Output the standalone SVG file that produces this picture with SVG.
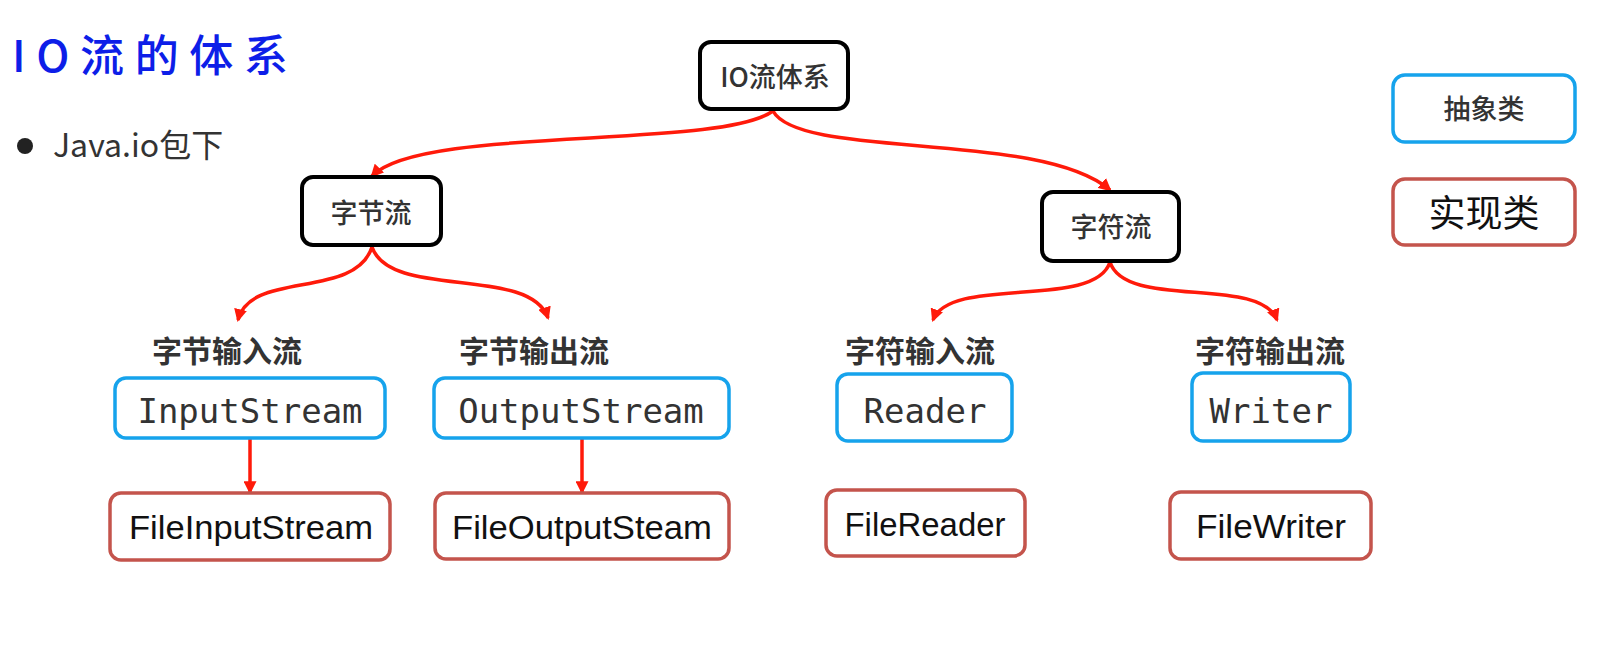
<svg xmlns="http://www.w3.org/2000/svg" width="1597" height="658" viewBox="0 0 1597 658">
<defs>
<marker id="ah" viewBox="0 0 12 12" refX="10" refY="6" markerWidth="13" markerHeight="13" markerUnits="userSpaceOnUse" orient="auto">
<path d="M0,0 L12,6 L0,12 z" fill="#ff1a0a"/>
</marker>
<style>
.cn{font-family:"Noto Sans CJK SC","Noto Sans",sans-serif;}
.blk rect{fill:#fff;stroke:#000;stroke-width:4;}
.abs rect{fill:#fff;stroke:#16a3ec;stroke-width:3.5;}
.imp rect{fill:#fff;stroke:#c4544c;stroke-width:3.5;}
.t1{font-family:"Noto Sans CJK SC","Noto Sans",sans-serif;font-size:27px;fill:#333;text-anchor:middle;font-weight:500;}
.lab{font-family:"Noto Sans CJK SC","Noto Sans",sans-serif;font-size:30px;font-weight:700;fill:#333;text-anchor:middle;}
.mono{font-family:"DejaVu Sans Mono","Liberation Mono",monospace;font-size:34px;fill:#333;text-anchor:middle;}
.sans{font-family:"Liberation Sans","Noto Sans",sans-serif;font-size:33px;fill:#111;text-anchor:middle;}
.con path{fill:none;stroke:#ff1a0a;stroke-width:3.5;marker-end:url(#ah);}
</style>
</defs>
<rect width="1597" height="658" fill="#fff"/>
<g id="title">
<text x="12" y="72" class="cn" style="font-size:44px;font-weight:500;fill:#0d1ee8" textLength="276" lengthAdjust="spacing">IO流的体系</text>
</g>
<g id="bullet">
<circle cx="25" cy="146" r="8" fill="#222"/>
<text x="53" y="157" class="cn" style="font-size:32px;fill:#333">Java.io包下</text>
</g>
<g id="connectors" class="con">
<path d="M773,111 C720,150 420,125 372,176"/>
<path d="M773,111 C800,160 1040,130 1110,190"/>
<path d="M372,247 C355,300 250,270 238,320"/>
<path d="M372,247 C390,300 530,265 548,318"/>
<path d="M1110,262 C1095,310 950,275 933,320"/>
<path d="M1110,262 C1125,310 1260,275 1277,320"/>
<path d="M250,438 L250,492"/>
<path d="M582,438 L582,492"/>
</g>
<g id="n-io" class="blk">
<rect x="700" y="42" width="148" height="67" rx="11"/>
<text x="775" y="87" class="t1">IO流体系</text>
</g>
<g id="n-byte" class="blk">
<rect x="302" y="177" width="139" height="68" rx="11"/>
<text x="371" y="223" class="t1">字节流</text>
</g>
<g id="n-char" class="blk">
<rect x="1042" y="192" width="137" height="69" rx="11"/>
<text x="1111" y="237" class="t1">字符流</text>
</g>
<g id="legend-abs" class="abs">
<rect x="1393" y="75" width="182" height="67" rx="12"/>
<text x="1484" y="119" class="t1">抽象类</text>
</g>
<g id="legend-impl" class="imp">
<rect x="1393" y="179" width="182" height="66" rx="12"/>
<text x="1484" y="227" class="t1" style="font-size:37px;fill:#111;font-weight:400">实现类</text>
</g>
<g id="lab-bi"><text x="227" y="362" class="lab">字节输入流</text></g>
<g id="lab-bo"><text x="534" y="362" class="lab">字节输出流</text></g>
<g id="lab-ci"><text x="920" y="362" class="lab">字符输入流</text></g>
<g id="lab-co"><text x="1270" y="362" class="lab">字符输出流</text></g>
<g id="n-inputstream" class="abs">
<rect x="115" y="378" width="270" height="60" rx="11"/>
<text x="250" y="423" class="mono">InputStream</text>
</g>
<g id="n-outputstream" class="abs">
<rect x="434" y="378" width="295" height="60" rx="11"/>
<text x="581" y="423" class="mono">OutputStream</text>
</g>
<g id="n-reader" class="abs">
<rect x="837" y="374" width="175" height="67" rx="11"/>
<text x="925" y="423" class="mono">Reader</text>
</g>
<g id="n-writer" class="abs">
<rect x="1192" y="373" width="158" height="68" rx="11"/>
<text x="1271" y="423" class="mono">Writer</text>
</g>
<g id="n-fileinputstream" class="imp">
<rect x="110" y="493" width="280" height="67" rx="11"/>
<text x="251" y="539" class="sans" textLength="244" lengthAdjust="spacingAndGlyphs">FileInputStream</text>
</g>
<g id="n-fileoutputsteam" class="imp">
<rect x="435" y="493" width="294" height="66" rx="11"/>
<text x="582" y="539" class="sans" textLength="260" lengthAdjust="spacingAndGlyphs">FileOutputSteam</text>
</g>
<g id="n-filereader" class="imp">
<rect x="826" y="490" width="199" height="66" rx="11"/>
<text x="925" y="536" class="sans" textLength="161" lengthAdjust="spacingAndGlyphs">FileReader</text>
</g>
<g id="n-filewriter" class="imp">
<rect x="1170" y="492" width="201" height="67" rx="11"/>
<text x="1271" y="538" class="sans" textLength="150" lengthAdjust="spacingAndGlyphs">FileWriter</text>
</g>
</svg>
